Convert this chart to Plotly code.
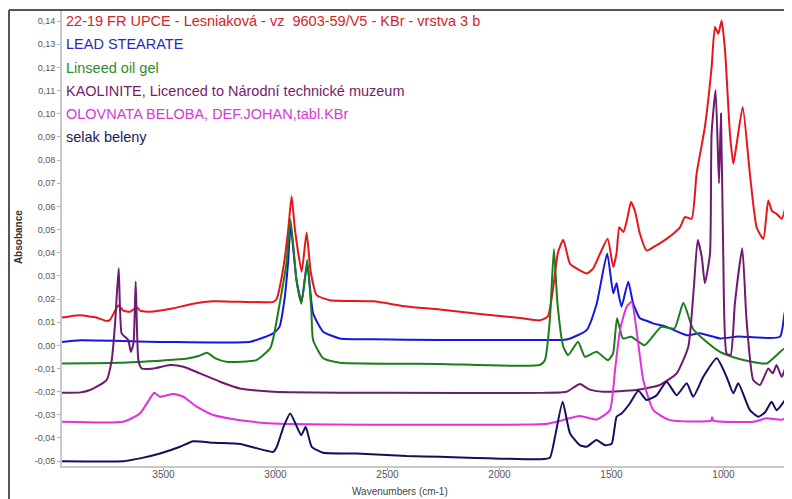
import plotly.graph_objects as go

# ---------------- data ----------------
red_wn = [3953, 3920, 3873, 3800, 3753, 3739, 3701, 3679, 3649, 3619, 3605, 3560, 3456, 3367, 3278, 3158,
          3010, 2995, 2965, 2943, 2928, 2913, 2883, 2861, 2843, 2816, 2757, 2563, 2414, 2266, 2087, 1908,
          1820, 1784, 1760, 1739, 1715, 1685, 1641, 1611, 1583, 1551, 1517, 1492, 1477, 1465, 1447, 1431,
          1413, 1395, 1373, 1343, 1313, 1254, 1194, 1172, 1142, 1120, 1083, 1053, 1038, 1023, 1008, 993,
          971, 956, 941, 914, 882, 852, 822, 800, 783, 763, 740, 725, 700, 694]
red_abs = [0.012, 0.0125, 0.013, 0.012, 0.0105, 0.011, 0.0172, 0.015, 0.0145, 0.0165, 0.015, 0.0145, 0.016,
           0.018, 0.019, 0.0188, 0.0188, 0.020, 0.0334, 0.050, 0.0644, 0.050, 0.0318, 0.0487, 0.032, 0.0217,
           0.0195, 0.019, 0.0168, 0.0155, 0.0135, 0.0118, 0.0108, 0.0125, 0.025, 0.040, 0.0456, 0.0352,
           0.0324, 0.031, 0.033, 0.0396, 0.046, 0.0338, 0.040, 0.051, 0.0489, 0.054, 0.0619, 0.058, 0.0482,
           0.041, 0.0424, 0.046, 0.051, 0.0554, 0.0547, 0.0741, 0.0943, 0.120, 0.1375, 0.1346, 0.1403,
           0.1274, 0.0914, 0.0784, 0.087, 0.1029, 0.0741, 0.051, 0.046, 0.0626, 0.058, 0.0568, 0.0547,
           0.059, 0.0784, 0.080]

blue_wn = [3953, 3870, 3500, 3112, 3010, 2982, 2960, 2944, 2932, 2906, 2884, 2858, 2832, 2787, 2713, 2565,
           2266, 1820, 1700, 1611, 1566, 1519, 1492, 1477, 1468, 1455, 1425, 1403, 1373, 1340, 1314, 1254,
           1164, 1105, 1016, 934, 748, 725, 712, 694]
blue_abs = [0.0015, 0.0022, 0.0015, 0.0016, 0.0052, 0.008, 0.0196, 0.0354, 0.0515, 0.0282, 0.0188, 0.035,
            0.0138, 0.0059, 0.003, 0.0026, 0.0023, 0.0023, 0.0025, 0.0066, 0.018, 0.0397, 0.0225, 0.0268,
            0.022, 0.0167, 0.0275, 0.018, 0.0117, 0.0105, 0.0095, 0.008, 0.0044, 0.0052, 0.003, 0.0038,
            0.0037, 0.0152, 0.009, 0.008]

green_wn = [3953, 3700, 3500, 3400, 3340, 3305, 3270, 3219, 3085, 3024, 3010, 2951, 2933, 2906, 2884, 2858,
            2840, 2832, 2787, 2713, 2266, 1820, 1797, 1775, 1757, 1741, 1715, 1693, 1649, 1619, 1567, 1515,
            1493, 1475, 1449, 1412, 1352, 1278, 1219, 1179, 1137, 1085, 1016, 941, 807, 725, 694]
green_abs = [-0.0078, -0.0075, -0.0065, -0.0058, -0.0045, -0.0032, -0.0055, -0.0071, -0.0064, -0.0013,
             0.003, 0.0354, 0.0545, 0.028, 0.018, 0.037, 0.015, 0.0023, -0.0056, -0.0075, -0.008, -0.0085,
             -0.0064, 0.011, 0.0416, 0.018, -0.0006, -0.0042, 0.0016, -0.0049, -0.0028, -0.0064, -0.0035,
             0.0117, 0.003, 0.0037, 0.0001, 0.008, 0.0073, 0.0184, 0.0073, 0.0023, -0.0028, -0.0056,
             -0.0078, -0.0013, -0.0064]

purple_wn = [3953, 3870, 3828, 3754, 3731, 3716, 3700, 3687, 3672, 3657, 3646, 3634, 3624, 3612, 3597, 3545,
             3471, 3411, 3337, 3248, 3159, 3010, 2500, 1800, 1700, 1641, 1600, 1537, 1388, 1284, 1209, 1157,
             1132, 1115, 1097, 1083, 1060, 1053, 1035, 1020, 1011, 1001, 986, 968, 949, 916, 897, 867, 837,
             800, 780, 763, 740, 718, 694]
purple_abs = [-0.0205, -0.0203, -0.0193, -0.015, -0.0064, 0.0095, 0.0333, 0.0052, 0.0037, 0.0023, -0.0028,
              0.0008, 0.0275, -0.0064, -0.010, -0.010, -0.0085, -0.0092, -0.0121, -0.0157, -0.0186, -0.020,
              -0.0205, -0.0205, -0.020, -0.0167, -0.019, -0.020, -0.0193, -0.0171, -0.0121, -0.0006,
              0.0253, 0.0455, 0.0383, 0.0268, 0.0397, 0.0914, 0.1102, 0.070, 0.1001, 0.0397, -0.0035,
              -0.0042, 0.018, 0.0419, 0.011, -0.015, -0.0171, -0.010, -0.0121, -0.0085, -0.0136, -0.0078,
              0.0044]

magenta_wn = [3953, 3680, 3605, 3560, 3541, 3515, 3456, 3411, 3352, 3277, 3158, 3010, 1800, 1745, 1641,
              1566, 1507, 1484, 1462, 1432, 1410, 1388, 1358, 1313, 1239, 1055, 1051, 1045, 867, 807, 733, 694]
magenta_abs = [-0.033, -0.033, -0.0294, -0.0229, -0.0205, -0.0222, -0.021, -0.0222, -0.0265, -0.0301,
               -0.0323, -0.0337, -0.034, -0.033, -0.0305, -0.032, -0.028, -0.0107, 0.0066, 0.0167, 0.0188,
               0.0066, -0.015, -0.028, -0.0323, -0.0325, -0.031, -0.0325, -0.033, -0.0315, -0.032, -0.0265]

navy_wn = [3953, 3680, 3605, 3515, 3426, 3367, 3277, 3158, 3010, 2994, 2964, 2934, 2885, 2865, 2838, 2787,
           2638, 2414, 2266, 1820, 1775, 1752, 1718, 1685, 1641, 1611, 1567, 1529, 1499, 1477, 1455, 1418,
           1380, 1343, 1298, 1254, 1209, 1164, 1135, 1090, 1030, 986, 956, 934, 882, 845, 815, 785, 763,
           725, 694]
navy_abs = [-0.050, -0.050, -0.0488, -0.0467, -0.0438, -0.0414, -0.0421, -0.0426, -0.046, -0.0438, -0.0352,
            -0.0294, -0.0388, -0.0352, -0.0438, -0.0464, -0.0467, -0.0478, -0.0481, -0.0492, -0.0485,
            -0.0395, -0.0244, -0.038, -0.0431, -0.0438, -0.0409, -0.0431, -0.0425, -0.0308, -0.0294,
            -0.0251, -0.0196, -0.0236, -0.0215, -0.0157, -0.0215, -0.0164, -0.0222, -0.0136, -0.0056,
            -0.0136, -0.0207, -0.0164, -0.028, -0.0308, -0.029, -0.0244, -0.028, -0.0236, -0.0186]

series_names = [
    "22-19 FR UPCE - Lesniaková - vz  9603-59/V5 - KBr - vrstva 3 b",
    "LEAD STEARATE",
    "Linseed oil gel",
    "KAOLINITE, Licenced to Národní technické muzeum",
    "OLOVNATA BELOBA, DEF.JOHAN,tabl.KBr",
    "selak beleny",
]
label_levels = [0.14, 0.13, 0.12, 0.11, 0.10, 0.09]

x_tickvals = [3500, 3000, 2500, 2000, 1500, 1000]
y_tickvals = [round(-0.05 + 0.01 * i, 2) for i in range(20)]
y_ticktext = [("%.2f" % v).replace(".", ",") for v in y_tickvals]

line_colors = ["#e8161b", "#1616e0", "#1d7d1d", "#6e1a72", "#e030e0", "#10105e"]
text_colors = ["#d42424", "#2a2ab4", "#2e8c2e", "#7a1a6a", "#d23cd2", "#1a1a5a"]

# ---------------- figure ----------------
fig = go.Figure()
all_series = [(red_wn, red_abs), (blue_wn, blue_abs), (green_wn, green_abs),
              (purple_wn, purple_abs), (magenta_wn, magenta_abs), (navy_wn, navy_abs)]
for (wn, ab), name, col in zip(all_series, series_names, line_colors):
    fig.add_trace(go.Scatter(x=wn, y=ab, mode="lines", name=name,
                             line=dict(color=col, width=2, shape="spline", smoothing=0.5),
                             hoverinfo="skip", showlegend=False))

annotations = []
for name, lvl, col in zip(series_names, label_levels, text_colors):
    annotations.append(dict(x=0.003, xref="paper", y=lvl, yref="y", text=name, showarrow=False,
                            xanchor="left", yanchor="middle",
                            font=dict(family="Liberation Sans, Arial", size=14.5, color=col)))
annotations.append(dict(x=-0.0603, xref="paper", y=0.503, yref="paper", text="<b>Absobance</b>",
                        textangle=-90, showarrow=False, xanchor="center", yanchor="middle",
                        font=dict(family="Liberation Sans, Arial", size=10, color="#333333")))
annotations.append(dict(x=0.463, xref="paper", y=-0.057, yref="paper", text="Wavenumbers (cm-1)",
                        showarrow=False, xanchor="center", yanchor="middle",
                        font=dict(family="Liberation Sans, Arial", size=10, color="#444444")))

shapes = [
    dict(type="line", xref="paper", yref="paper", x0=-0.0726, x1=-0.0726, y0=-0.2, y1=1.0022,
         line=dict(color="#555555", width=2)),
    dict(type="line", xref="paper", yref="paper", x0=-0.0726, x1=1.02, y0=1.0022, y1=1.0022,
         line=dict(color="#555555", width=2)),
]

# the page adds an 8 px body margin, so the figure is 8 px smaller with 8 px less left/top margin
fig.update_layout(
    width=784, height=491,
    margin=dict(l=54, r=0, t=3, b=33, autoexpand=False),
    paper_bgcolor="white", plot_bgcolor="white",
    annotations=annotations, shapes=shapes,
    font=dict(family="Liberation Sans, Arial", color="#555555"),
    xaxis=dict(range=[3953, 694], tickvals=x_tickvals, ticks="outside", ticklen=3, tickcolor="#aaaaaa",
               showline=True, linecolor="#c8c8c8", linewidth=2, showgrid=False, zeroline=False,
               ticklabelstandoff=-5, automargin=False,
               tickfont=dict(size=10, color="#555555")),
    yaxis=dict(range=[-0.0521, 0.1444], tickvals=y_tickvals, ticktext=y_ticktext, ticks="outside",
               ticklen=3, tickcolor="#aaaaaa", showline=True, linecolor="#c8c8c8", linewidth=2,
               showgrid=False, zeroline=False, automargin=False, tickfont=dict(size=9, color="#555555")),
)

fig.write_html("out.html")
